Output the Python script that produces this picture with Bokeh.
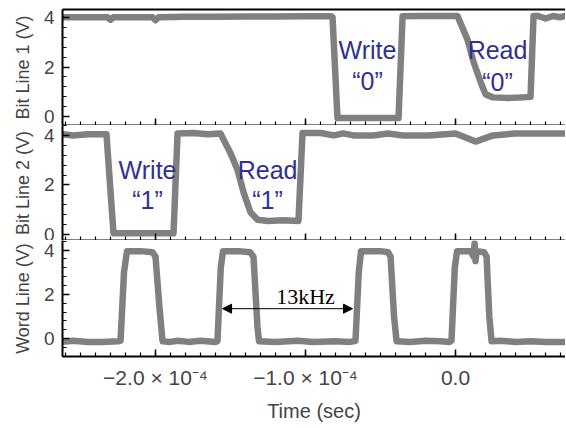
import numpy as np
from bokeh.plotting import figure
from bokeh.layouts import column
from bokeh.models import (Range1d, FixedTicker, LinearAxis, Arrow, NormalHead,
                          Label)
from bokeh.embed import file_html
from bokeh.resources import INLINE

# ---------------- data (time in units of 1e-4 s, voltage in V) ----------------
SCALE = 1e-4

bl1_t = [-2.62, -2.45, -2.32, -2.30, -2.28, -2.1, -2.02, -2.0, -1.98, -1.8, -1.6, -1.4,
         -1.2, -1.0, -0.9, -0.83, -0.82, -0.787, -0.6, -0.38, -0.353, -0.25, -0.1,
         0.013, 0.08, 0.12, 0.167, 0.2, 0.25, 0.35, 0.45, 0.5, 0.52, 0.55, 0.6, 0.65, 0.7, 0.73]
bl1_v = [4.0, 4.0, 4.0, 3.9, 4.0, 4.0, 4.0, 3.88, 4.0, 4.02, 4.02, 4.03,
         4.03, 4.04, 4.04, 4.04, 4.0, -0.05, -0.05, -0.05, 4.04, 4.05, 4.05,
         4.05, 3.1, 2.2, 1.4, 0.9, 0.78, 0.75, 0.78, 0.8, 4.05, 4.05, 3.95, 4.05, 4.0, 4.05]

bl2_t = [-2.62, -2.55, -2.45, -2.40, -2.327, -2.28, -2.1, -1.9, -1.88, -1.853, -1.75, -1.65,
         -1.567, -1.5, -1.453, -1.413, -1.367, -1.32, -1.25, -1.15, -1.047, -1.02,
         -0.9, -0.81, -0.75, -0.68, -0.55, -0.45, -0.35, -0.18, 0.0, 0.133, 0.25, 0.4, 0.6, 0.73]
bl2_v = [4.05, 4.0, 4.05, 4.05, 4.05, 0.05, 0.05, 0.05, 0.05, 4.08, 4.1, 4.05,
         4.08, 3.28, 2.6, 1.7, 0.9, 0.6, 0.55, 0.58, 0.55, 4.1,
         4.1, 4.0, 4.08, 4.0, 4.0, 4.08, 4.0, 4.0, 4.08, 3.75, 4.0, 4.08, 4.08, 4.08]

wl_t = [-2.62, -2.55, -2.45, -2.35, -2.25, -2.233, -2.21, -2.19, -2.1, -2.02, -2.0, -1.975,
        -1.953, -1.9, -1.85, -1.78, -1.7, -1.6, -1.587, -1.565, -1.55, -1.45, -1.37,
        -1.347, -1.32, -1.31, -1.2, -1.05, -0.95, -0.8, -0.7, -0.667, -0.645, -0.63,
        -0.5, -0.45, -0.433, -0.41, -0.393, -0.3, -0.2, -0.1, -0.04, -0.027, -0.005,
        0.01, 0.1, 0.12, 0.127, 0.133, 0.14, 0.19, 0.207, 0.225, 0.24, 0.3, 0.4, 0.5, 0.6, 0.73]
wl_v = [-0.15, -0.1, -0.15, -0.15, -0.12, -0.1, 3.0, 3.95, 3.95, 3.9, 3.7, 1.5,
        -0.12, -0.15, -0.1, -0.15, -0.1, -0.15, -0.12, 3.2, 3.95, 3.95, 3.9,
        3.7, 0.5, -0.12, -0.15, -0.1, -0.15, -0.12, -0.15, -0.1, 3.0, 3.95,
        3.95, 3.9, 3.7, 1.0, -0.12, -0.15, -0.1, -0.12, -0.15, -0.1, 3.2,
        3.95, 3.95, 3.7, 4.3, 3.5, 3.95, 3.9, 3.7, 1.0, -0.12, -0.1, -0.15, -0.12, -0.15, -0.15]

x_major_ticks = [-2.0, -1.0, 0.0]
x_tick_labels = ["\u22122.0 \u00d7 10\u207b\u2074", "\u22121.0 \u00d7 10\u207b\u2074", "0.0"]
x_minor_ticks = [v / 10 for v in range(-26, 8)]
y_major_ticks = [0, 2, 4]
y_minor_ticks = [v / 10 for v in range(-8, 45, 4)]

panel_ylabels = ["Bit Line 1 (V)", "Bit Line 2 (V)", "Word Line (V)"]
panel_yranges = [(-0.35, 4.31), (-0.24, 4.4), (-0.81, 4.43)]

ann_texts = [("Write", "\u201c0\u201d", -0.587, 2.7, 1.45),
             ("Read", "\u201c0\u201d", 0.28, 2.67, 1.41)]
ann_texts2 = [("Write", "\u201c1\u201d", -2.053, 2.6, 1.4),
              ("Read", "\u201c1\u201d", -1.253, 2.6, 1.4)]
arrow_x = (-1.553, -0.687)
arrow_y = 1.35
freq_label = "13kHz"
freq_label_pos = (-1.0, 1.88)

XR = (-2.62 * SCALE, 0.733 * SCALE)
GRAY = "#808080"
BLUE = "#2e3192"
FONT = "Liberation Sans"


def hidden_axis(ticker, with_ticks=True):
    ax = LinearAxis(ticker=ticker)
    ax.axis_line_width = 2
    ax.major_tick_out = 0
    ax.minor_tick_out = 0
    if with_ticks:
        ax.major_tick_in = 7
        ax.minor_tick_in = 4
        ax.major_tick_line_width = 1.5
        ax.minor_tick_line_width = 1.2
    else:
        ax.major_tick_in = 0
        ax.minor_tick_in = 0
        ax.major_tick_line_color = None
        ax.minor_tick_line_color = None
    ax.major_label_text_color = None
    ax.major_label_text_font_size = "1px"
    ax.major_label_standoff = 0
    return ax


def make_panel(ylabel, yr, fh, bottom_labels=False, top_line=False):
    p = figure(frame_width=503, frame_height=fh, output_backend="svg",
               toolbar_location=None,
               x_range=Range1d(*XR), y_range=Range1d(*yr),
               x_axis_location=None, y_axis_location="left",
               min_border_left=62, min_border_right=0,
               min_border_top=0, min_border_bottom=0)
    p.outline_line_color = None
    p.grid.visible = False
    p.background_fill_color = "white"
    p.border_fill_color = "white"

    ticker_x = FixedTicker(ticks=[v * SCALE for v in x_major_ticks],
                           minor_ticks=[v * SCALE for v in x_minor_ticks])
    if bottom_labels:
        ax = LinearAxis(ticker=ticker_x)
        ax.axis_line_width = 2
        ax.major_tick_in = 7
        ax.major_tick_out = 0
        ax.minor_tick_in = 4
        ax.minor_tick_out = 0
        ax.major_tick_line_width = 1.5
        ax.minor_tick_line_width = 1.2
        ax.major_label_overrides = {v * SCALE: s for v, s in zip(x_major_ticks, x_tick_labels)}
        ax.major_label_text_font = FONT
        ax.major_label_text_font_size = "21px"
        ax.major_label_standoff = 9
        ax.axis_label = "Time (sec)"
        ax.axis_label_text_font = FONT
        ax.axis_label_text_font_size = "20px"
        ax.axis_label_text_font_style = "normal"
        ax.axis_label_standoff = 8
        p.add_layout(ax, "below")
    else:
        p.add_layout(hidden_axis(ticker_x), "below")
    if top_line:
        p.add_layout(hidden_axis(ticker_x, with_ticks=False), "above")

    ya = p.yaxis[0]
    ya.ticker = FixedTicker(ticks=y_major_ticks, minor_ticks=y_minor_ticks)
    ya.axis_line_width = 2
    ya.major_tick_in = 7
    ya.major_tick_out = 0
    ya.minor_tick_in = 4
    ya.minor_tick_out = 0
    ya.major_tick_line_width = 1.5
    ya.minor_tick_line_width = 1.2
    ya.major_label_text_font = FONT
    ya.major_label_text_font_size = "19px"
    ya.major_label_standoff = 8
    ya.axis_label = ylabel
    ya.axis_label_text_font = FONT
    ya.axis_label_text_font_size = "18px"
    ya.axis_label_text_font_style = "normal"
    ya.axis_label_standoff = 8
    return p


def add_words(p, items):
    for top, bot, x, y1, y2 in items:
        for txt, yy in ((top, y1), (bot, y2)):
            p.add_layout(Label(x=x * SCALE, y=yy, text=txt, text_align="center",
                               text_baseline="alphabetic", text_color=BLUE,
                               text_font=FONT, text_font_size="25px"))


p1 = make_panel(panel_ylabels[0], panel_yranges[0], 116, top_line=True)
p1.min_border_top = 9
p1.line(np.array(bl1_t) * SCALE, bl1_v, line_color=GRAY, line_width=6.5,
        line_join="round", line_cap="round")
add_words(p1, ann_texts)

p2 = make_panel(panel_ylabels[1], panel_yranges[1], 115)
p2.line(np.array(bl2_t) * SCALE, bl2_v, line_color=GRAY, line_width=6.5,
        line_join="round", line_cap="round")
add_words(p2, ann_texts2)

p3 = make_panel(panel_ylabels[2], panel_yranges[2], 116, bottom_labels=True)
p3.line(np.array(wl_t) * SCALE, wl_v, line_color=GRAY, line_width=6.5,
        line_join="round", line_cap="round")
p3.add_layout(Arrow(start=NormalHead(size=9, fill_color="black", line_color="black"),
                    end=NormalHead(size=9, fill_color="black", line_color="black"),
                    x_start=arrow_x[0] * SCALE, x_end=arrow_x[1] * SCALE,
                    y_start=arrow_y, y_end=arrow_y, line_width=1, line_color="black"))
p3.add_layout(Label(x=freq_label_pos[0] * SCALE, y=freq_label_pos[1], text=freq_label,
                    text_align="center", text_baseline="alphabetic",
                    text_font="Liberation Serif", text_font_size="22px",
                    text_color="black"))

layout = column(p1, p2, p3, spacing=0)
open("out.html", "w").write(file_html(layout, INLINE))
